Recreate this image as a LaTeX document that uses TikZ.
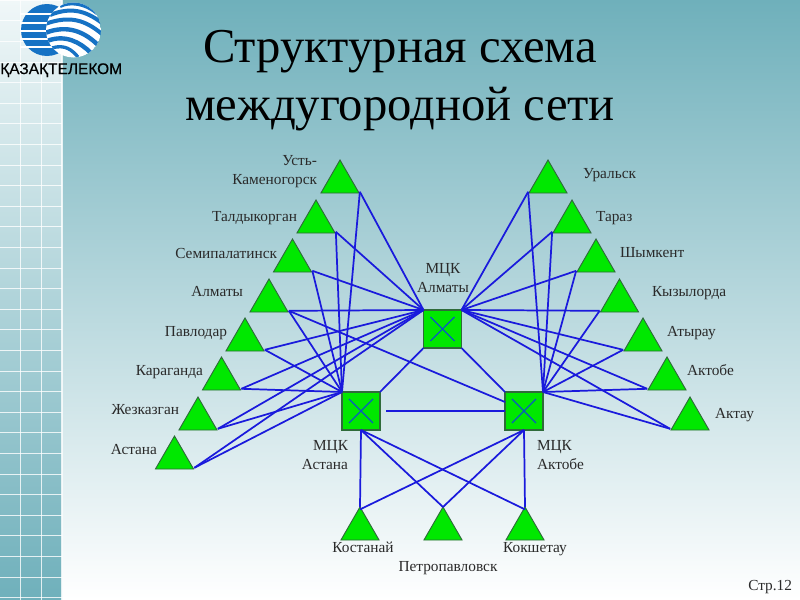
\documentclass[tikz,border=0pt]{standalone}
\usepackage{fontspec}
\setmainfont{Liberation Serif}
\newfontfamily\logofont[FakeBold=0.4]{Liberation Sans}
\usetikzlibrary{shapes.geometric}
\definecolor{bgdark}{HTML}{6FB0BB}
\definecolor{stripetop}{HTML}{F0F7F8}
\definecolor{linkblue}{HTML}{1A1ADC}
\definecolor{crossblue}{HTML}{0A5AC0}
\definecolor{nodegreen}{HTML}{00E800}
\definecolor{edgegreen}{HTML}{2F6B3A}
\definecolor{logoblue}{HTML}{1672C4}
\definecolor{textgrey}{HTML}{2A2A2A}
\tikzset{
  x=0.75pt,y=-0.75pt,
  tri/.style={draw=edgegreen,fill=nodegreen,line width=0.7pt,isosceles triangle,
    isosceles triangle apex angle=60,shape border rotate=90,minimum height=24.75pt,
    inner sep=0pt,outer sep=0pt,anchor=apex},
  sq/.style={draw=edgegreen,fill=nodegreen,line width=0.8pt,rectangle,minimum size=28.5pt,
    inner sep=0pt,outer sep=0pt},
  link/.style={draw=linkblue,line width=1.3pt},
  crossline/.style={draw=crossblue,line width=0.9pt},
  lbl/.style={text=textgrey,font=\fontsize{11.5}{14.25}\selectfont,inner sep=0pt,outer sep=0pt},
  lbll/.style={lbl,anchor=mid east,yshift=-1.1pt},
  lblr/.style={lbl,anchor=mid west,yshift=-1.1pt},
  lblc/.style={lbl,anchor=mid,yshift=-1.1pt},
  titlefont/.style={text=black,font=\fontsize{36.5}{43.5}\selectfont,align=center,inner sep=0pt},
  sl/.style={xshift=0.6pt,yshift=0.9pt},
  sr/.style={xshift=-0.6pt,yshift=0.9pt},
}
\begin{document}
\begin{tikzpicture}
\useasboundingbox (0,0) rectangle (800,600);
% backgrounds
\shade[top color=bgdark,bottom color=white] (0,0) rectangle (800,600);
\shade[top color=stripetop,bottom color=bgdark] (0,0) rectangle (62,600);
\foreach \gx in {20.5,41.5,62} \draw[white,opacity=.8,line width=0.8pt] (\gx,0) -- (\gx,600);
\foreach \k in {0,...,29} \draw[white,opacity=.8,line width=0.8pt] (0,0.3+20.6*\k) -- (62,0.3+20.6*\k);
% logo
\fill[logoblue] (47,30) circle (26);
\foreach \gy/\gw in {14/2,22.5/2,31/2,39/2,47/2} \fill[white] (20,\gy-\gw/2) rectangle (75,\gy+\gw/2);
\begin{scope}
\clip (73.5,30) circle (27.5);
\fill[white] (73.5,30) circle (27.5);
\draw[logoblue,line width=3pt] (60,6) .. controls (70,1) and (85,3) .. (97,13);
\draw[logoblue,line width=3pt] (50,15) .. controls (70,7) and (85,10) .. (102,23);
\draw[logoblue,line width=3pt] (45,24) .. controls (70,15) and (85,20) .. (102,34);
\draw[logoblue,line width=3.3pt] (45,33) .. controls (68,24) and (85,32) .. (99,46);
\draw[logoblue,line width=3.3pt] (47,41) .. controls (65,34) and (80,42) .. (91,53);
\draw[logoblue,line width=2.5pt] (52,48) .. controls (65,44) and (72,50) .. (78,57);
\end{scope}
\node[anchor=mid west,inner sep=0pt,text=black,font=\logofont\fontsize{11.6}{12}\selectfont] (logotext) at (0,71) {ҚАЗАҚТЕЛЕКОМ};
% title
\node[titlefont] (title) at (400,80.5) {Структурная схема\\междугородной сети};
% left triangles
\node[tri] (t1) at (340,160) {};
\node[tri] (t2) at (316,200) {};
\node[tri] (t3) at (292.5,239) {};
\node[tri] (t4) at (269,279) {};
\node[tri] (t5) at (245,318) {};
\node[tri] (t6) at (221.5,357) {};
\node[tri] (t7) at (198,397) {};
\node[tri] (t8) at (174.5,436) {};
% right triangles
\node[tri] (r1) at (548,160) {};
\node[tri] (r2) at (572,200) {};
\node[tri] (r3) at (596,239) {};
\node[tri] (r4) at (619.5,279) {};
\node[tri] (r5) at (643,318) {};
\node[tri] (r6) at (667,357) {};
\node[tri] (r7) at (690,397) {};
% bottom triangles
\node[tri] (b1) at (360,507) {};
\node[tri] (b2) at (443,507) {};
\node[tri] (b3) at (525,507) {};
% squares
\node[sq] (sA) at (442.5,329) {};
\node[sq] (sT) at (361,411) {};
\node[sq] (sK) at (524,411) {};
% connectors
\foreach \n in {t1,t2,t3,t4,t5,t6,t7,t8} {
  \draw[link] ([sl]\n.right corner) -- (sA.north west);
  \draw[link] ([sl]\n.right corner) -- (sT.north west);
}
\foreach \n in {r1,r2,r3,r4,r5,r6,r7} {
  \draw[link] ([sr]\n.left corner) -- (sA.north east);
  \draw[link] ([sr]\n.left corner) -- (sK.north east);
}
\draw[link] (sA.south west) -- (sT.north east);
\draw[link] (sA.south east) -- (sK.north west);
\draw[link] ([sl]t4.right corner) -- ([yshift=-7.5pt]sK.north west);
\draw[link] ([xshift=4.5pt]sT.east) -- (sK.west);
\draw[link] (sT.south) -- (b1.apex);
\draw[link] (sT.south) -- (b2.apex);
\draw[link] (sT.south) -- ([yshift=-1.8pt]b3.apex);
\draw[link] (sK.south) -- ([yshift=-1.8pt]b1.apex);
\draw[link] (sK.south) -- (b2.apex);
\draw[link] (sK.south) -- (b3.apex);
% crosses
\foreach \n in {sA,sT,sK} {
  \draw[crossline] ([xshift=5.2pt,yshift=-5.2pt]\n.north west) -- ([xshift=-5.2pt,yshift=5.2pt]\n.south east);
  \draw[crossline] ([xshift=-5.2pt,yshift=-5.2pt]\n.north east) -- ([xshift=5.2pt,yshift=5.2pt]\n.south west);
}
% labels
\node[lbl,anchor=east,align=right] (lt1) at (317,172) {Усть-\\Каменогорск};
\node[lbll] (lt2) at (297,217) {Талдыкорган};
\node[lbll] (lt3) at (277,254) {Семипалатинск};
\node[lbll] (lt4) at (243,292) {Алматы};
\node[lbll] (lt5) at (227,332) {Павлодар};
\node[lbll] (lt6) at (203,371) {Караганда};
\node[lbll] (lt7) at (179,410) {Жезказган};
\node[lbll] (lt8) at (157,450) {Астана};
\node[lblr] (lr1) at (583,174) {Уральск};
\node[lblr] (lr2) at (596,217) {Тараз};
\node[lblr] (lr3) at (620,253) {Шымкент};
\node[lblr] (lr4) at (652,292) {Кызылорда};
\node[lblr] (lr5) at (667,332) {Атырау};
\node[lblr] (lr6) at (687,371) {Актобе};
\node[lblr] (lr7) at (715,414) {Актау};
\node[lbl,align=center] (lA) at (443,278.5) {МЦК\\Алматы};
\node[lbl,anchor=east,align=right] (lT) at (348,455) {МЦК\\Астана};
\node[lbl,anchor=west,align=left] (lK) at (537,455) {МЦК\\Актобе};
\node[lblc] (lb1) at (363,548) {Костанай};
\node[lblc] (lb2) at (448,567) {Петропавловск};
\node[lblc] (lb3) at (535,548) {Кокшетау};
\node[lbl,anchor=mid east,yshift=-0.8pt,font=\fontsize{11.5}{13}\selectfont] (page) at (792,586) {Стр.12};
\end{tikzpicture}
\end{document}
